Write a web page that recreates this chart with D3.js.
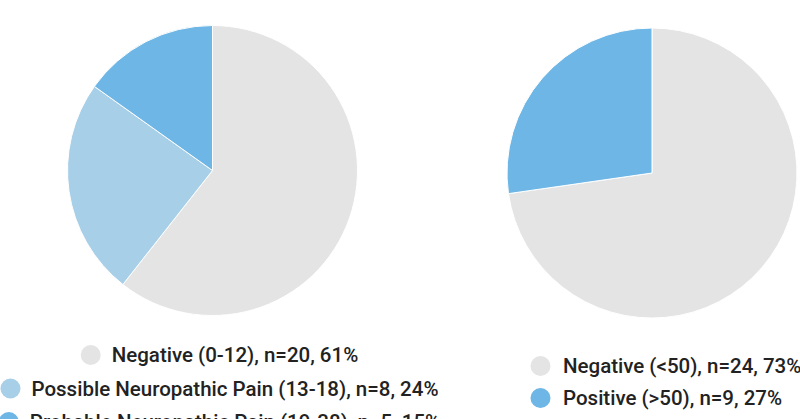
<!DOCTYPE html>
<html><head><meta charset="utf-8">
<script src="https://cdn.jsdelivr.net/npm/d3@7"></script>
<style>html,body{margin:0;padding:0;background:#fff;}svg{display:block;}</style>
</head><body>
<svg id="chart" width="800" height="419"></svg>
<script>
const leftCategories = ["Negative (0-12)", "Possible Neuropathic Pain (13-18)", "Probable Neuropathic Pain (19-38)"];
const leftValues = [20, 8, 5];
const leftPercents = [61, 24, 15];
const rightCategories = ["Negative (<50)", "Positive (>50)"];
const rightValues = [24, 9];
const rightPercents = [73, 27];
const leftColors = ["#e4e4e4", "#a8cfe8", "#6db6e6"];
const rightColors = ["#e4e4e4", "#6db6e6"];

const svg = d3.select("#chart");
const pie = d3.pie().sort(null).value(d => d);
const arc = d3.arc().innerRadius(0).outerRadius(145);

function drawPie(cx, cy, values, colors) {
  const g = svg.append("g").attr("transform", `translate(${cx},${cy})`);
  g.selectAll("path").data(pie(values)).join("path")
    .attr("d", arc)
    .attr("fill", (d, i) => colors[i])
    .attr("stroke", "#fff").attr("stroke-width", 1);
}
drawPie(212.5, 170.5, leftValues, leftColors);
drawPie(652, 173, rightValues, rightColors);

const fontSize = 20.5;
function label(cat, n, p) { return `${cat}, n=${n}, ${p}%`; }

// Left legend: each line centered
const leftLegend = svg.append("g");
leftCategories.forEach((c, i) => {
  const row = leftLegend.append("g");
  const t = row.append("text").attr("x", 0).attr("y", 0)
    .attr("font-family", "Roboto").attr("font-weight", 500).attr("font-size", fontSize)
    .attr("fill", "#222").attr("dominant-baseline", "central")
    .text(label(c, leftValues[i], leftPercents[i]));
  const w = t.node().getComputedTextLength();
  const total = 31 + w;
  const x0 = 219.5 - total / 2;
  const y = 355 + i * 33.5;
  row.append("circle").attr("cx", x0 + 10).attr("cy", y).attr("r", 10).attr("fill", leftColors[i]);
  t.attr("x", x0 + 31).attr("y", y);
});

// Right legend: left aligned
rightCategories.forEach((c, i) => {
  const y = 366 + i * 32;
  svg.append("circle").attr("cx", 540.5).attr("cy", y).attr("r", 10).attr("fill", rightColors[i]);
  svg.append("text").attr("x", 563).attr("y", y)
    .attr("font-family", "Roboto").attr("font-weight", 500).attr("font-size", fontSize)
    .attr("fill", "#222").attr("dominant-baseline", "central")
    .text(label(c, rightValues[i], rightPercents[i]));
});
</script>
</body></html>
